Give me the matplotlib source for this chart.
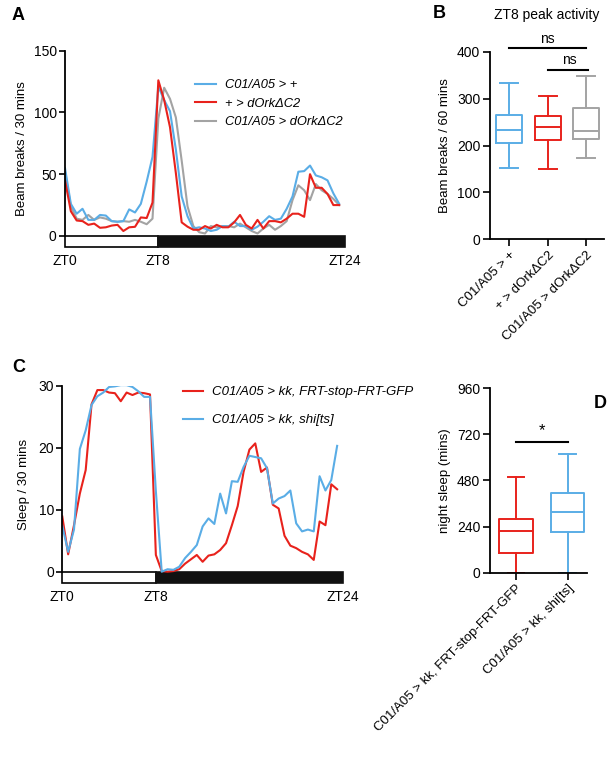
import matplotlib
matplotlib.use("Agg")
import matplotlib.pyplot as plt
from matplotlib.patches import Rectangle
from matplotlib.lines import Line2D
import numpy as np

plt.rcParams['font.family'] = ['Liberation Sans', 'DejaVu Sans']
plt.rcParams['axes.linewidth'] = 1.3

# ===== DATA =====
# Panel A: beam breaks per 30 min bin, ZT0 .. ZT23.5
A_BLUE = [55, 26, 18, 22, 13, 13, 17, 16.5, 12, 11.5, 12, 21.5, 19, 26, 44, 64,
          121, 110, 101, 70, 32, 16, 6, 7, 6, 4, 5, 8, 7.5, 11.5, 8, 8,
          5, 7.5, 11.5, 16, 13, 14, 22, 32, 52, 52.5, 57, 49, 47.5, 45, 34.5, 26]
A_RED = [45, 20, 12.5, 12, 9, 10, 6.6, 7, 8.4, 9, 4, 7, 7.4, 15, 14.5, 27,
         126, 110, 88, 51, 11, 7.5, 5, 5, 8, 6, 9, 7, 7, 11, 17, 9,
         6, 13, 6, 12, 12, 11, 14, 18, 18, 15.5, 50, 39, 39, 34, 25, 25]
A_GRAY = [52, 24, 14, 13, 17, 13, 15, 14, 12, 11.5, 12, 11.5, 13, 11.5, 9.5, 14,
          95, 120, 111, 96, 61, 24, 8, 3, 2, 8, 7, 8, 8, 7, 10, 7,
          4, 2, 6, 9, 5, 8, 12, 29, 41, 37, 29, 42, 37, 34, 30, 25]
A_LABELS = ["C01/A05 > +", "+ > dOrkΔC2", "C01/A05 > dOrkΔC2"]

# Panel B: ZT8 peak activity box stats
B_GROUPS = ["C01/A05 > +", "+ > dOrkΔC2", "C01/A05 > dOrkΔC2"]
B_WHISLO = [152, 151, 173]
B_Q1 = [206, 211, 214]
B_MED = [234, 239, 231]
B_Q3 = [266, 264, 280]
B_WHISHI = [333, 305, 349]

# Panel C: sleep per 30 min bin
C_RED = [8.9, 2.8, 7.5, 12.6, 16.4, 27, 29.3, 29.3, 28.9, 28.8, 27.5, 28.9, 28.5, 28.9, 28.8, 28.6,
         2.7, 0.1, 0, 0.1, 0.4, 1.3, 2, 2.7, 1.6, 2.6, 2.8, 3.5, 4.6, 7.5, 10.6, 16.1,
         19.7, 20.7, 16.1, 16.8, 10.8, 10.2, 5.8, 4.2, 3.8, 3.2, 2.8, 1.9, 8.1, 7.5, 14.1, 13.3]
C_BLUE = [7.4, 3.2, 6.8, 19.8, 22.8, 26.9, 28.3, 28.9, 29.8, 29.9, 30.1, 30.1, 29.8, 29.1, 28.2, 28.2,
          13, 0, 0.4, 0.3, 0.8, 2.2, 3.2, 4.3, 7.3, 8.6, 7.7, 12.6, 9.4, 14.6, 14.5, 16.9,
          18.7, 18.5, 18.3, 16.7, 11, 11.8, 12.2, 13.1, 7.8, 6.5, 6.8, 6.5, 15.4, 13.1, 14.8, 20.3]
C_LABELS = ["C01/A05 > kk, FRT-stop-FRT-GFP", "C01/A05 > kk, shi[ts]"]

# Panel D: night sleep box stats
D_GROUPS = ["C01/A05 > kk, FRT-stop-FRT-GFP", "C01/A05 > kk, shi[ts]"]
D_WHISLO = [0, 0]
D_Q1 = [101, 210]
D_MED = [217, 314]
D_Q3 = [279, 413]
D_WHISHI = [500, 616]

ZT_TICKS = [0, 8, 24]
ZT_LABELS = ["ZT0", "ZT8", "ZT24"]

BLUE = "#5aade6"
RED = "#e8221c"
GRAY = "#a3a3a3"


def light_dark_bar(ax, depth):
    ax.add_patch(Rectangle((0, -depth), 8, depth, facecolor="white",
                           edgecolor="black", lw=1.2, clip_on=False))
    ax.add_patch(Rectangle((8, -depth), 16, depth, facecolor="#111111",
                           edgecolor="#111111", lw=1.2, clip_on=False))


def style_trace_axes(ax, ymax, yticks, depth):
    for s in ("top", "right", "bottom"):
        ax.spines[s].set_visible(False)
    ax.spines["left"].set_bounds(0, ymax)
    ax.set_xlim(0, 24)
    ax.set_ylim(-depth, ymax)
    ax.set_yticks(yticks)
    ax.set_xticks(ZT_TICKS)
    ax.set_xticklabels(ZT_LABELS)
    ax.tick_params(axis="y", direction="out", length=4, width=1.2, labelsize=10, pad=2)
    ax.tick_params(axis="x", length=0, labelsize=10, pad=5)
    light_dark_bar(ax, depth)


def style_box_axes(ax, ymax, yticks, n, xmax):
    for s in ("top", "right"):
        ax.spines[s].set_visible(False)
    ax.set_ylim(0, ymax)
    ax.set_xlim(0.5, xmax)
    ax.set_yticks(yticks)
    ax.tick_params(axis="both", direction="out", length=5, width=1.2, labelsize=10, pad=2)


def box_stats(lo, q1, med, q3, hi):
    return [dict(whislo=a, q1=b, med=c, q3=d, whishi=e, fliers=[])
            for a, b, c, d, e in zip(lo, q1, med, q3, hi)]


def draw_boxes(ax, stats, colors, width, capw):
    for i, (st, c) in enumerate(zip(stats, colors)):
        kw = dict(color=c, lw=1.4)
        ax.bxp([st], positions=[i + 1], widths=width, capwidths=capw, showfliers=False,
               boxprops=kw, whiskerprops=kw, capprops=kw, medianprops=kw,
               manage_ticks=False)


fig = plt.figure(figsize=(6.15, 7.69), dpi=100)
x = np.arange(len(A_BLUE)) * 0.5

# ----- Panel A -----
axA = fig.add_axes([0.1057, 0.6792, 0.4553, 0.2549])
axA.plot(x, A_GRAY, color=GRAY, lw=1.5)
axA.plot(x, A_BLUE, color=BLUE, lw=1.5)
axA.plot(x, A_RED, color=RED, lw=1.5)
style_trace_axes(axA, 150, [0, 50, 100, 150], 8.7)
axA.set_ylabel("Beam breaks / 30 mins", fontsize=9.5, labelpad=4)
handles = [Line2D([], [], color=c, lw=1.5) for c in (BLUE, RED, GRAY)]
axA.legend(handles, A_LABELS, loc="upper left", bbox_to_anchor=(195 / 615, 1 - 79 / 769),
           bbox_transform=fig.transFigure, frameon=False, prop=dict(style="italic", size=9.3),
           borderpad=0, borderaxespad=0, handlelength=1.6, handletextpad=0.7, labelspacing=0.5)

# ----- Panel B -----
axB = fig.add_axes([0.7967, 0.6888, 0.1854, 0.2436])
style_box_axes(axB, 400, [0, 100, 200, 300, 400], 3, 3.46)
draw_boxes(axB, box_stats(B_WHISLO, B_Q1, B_MED, B_Q3, B_WHISHI), [BLUE, RED, GRAY], 0.68, 0.47)
axB.set_xticks([1, 2, 3])
axB.set_xticklabels(B_GROUPS, rotation=45, ha="right", rotation_mode="anchor", fontsize=9.5)
axB.set_ylabel("Beam breaks / 60 mins", fontsize=9.5, labelpad=4)
axB.set_title("ZT8 peak activity", fontsize=10, pad=24)
axB.plot([1, 3], [408, 408], color="black", lw=1.5, clip_on=False)
axB.text(2, 413, "ns", ha="center", va="bottom", fontsize=10)
axB.plot([2, 3.05], [362, 362], color="black", lw=1.5, clip_on=False)
axB.text(2.55, 367, "ns", ha="center", va="bottom", fontsize=10)

# ----- Panel C -----
axC = fig.add_axes([0.1013, 0.2423, 0.4564, 0.2561])
axC.plot(x, C_RED, color=RED, lw=1.5)
axC.plot(x, C_BLUE, color=BLUE, lw=1.5)
style_trace_axes(axC, 30, [0, 10, 20, 30], 1.77)
axC.set_ylabel("Sleep / 30 mins", fontsize=9.5, labelpad=6)
handles = [Line2D([], [], color=c, lw=1.5) for c in (RED, BLUE)]
axC.legend(handles, C_LABELS, loc="upper left", bbox_to_anchor=(183 / 615, 1 - 386 / 769),
           bbox_transform=fig.transFigure, frameon=False, prop=dict(style="italic", size=9.5),
           borderpad=0, borderaxespad=0, handlelength=1.5, handletextpad=0.7, labelspacing=1.2)

# ----- Panel D -----
axD = fig.add_axes([0.7967, 0.2553, 0.1572, 0.2398])
style_box_axes(axD, 960, [0, 240, 480, 720, 960], 2, 2.37)
draw_boxes(axD, box_stats(D_WHISLO, D_Q1, D_MED, D_Q3, D_WHISHI), [RED, BLUE], 0.65, 0.32)
axD.set_xticks([1, 2])
axD.set_xticklabels(D_GROUPS, rotation=45, ha="right", rotation_mode="anchor", fontsize=9.5)
axD.set_ylabel("night sleep (mins)", fontsize=9.5, labelpad=4)
axD.plot([1, 2], [682, 682], color="black", lw=1.5)
axD.text(1.5, 700, "*", ha="center", va="bottom", fontsize=12)

# panel letters
for lab, px, py in (("A", 12, 15), ("B", 433, 13), ("C", 12, 367), ("D", 594, 403)):
    fig.text(px / 615, 1 - py / 769, lab, fontsize=13, fontweight="bold", va="center", ha="left")

fig.savefig("out.png", dpi=100)
